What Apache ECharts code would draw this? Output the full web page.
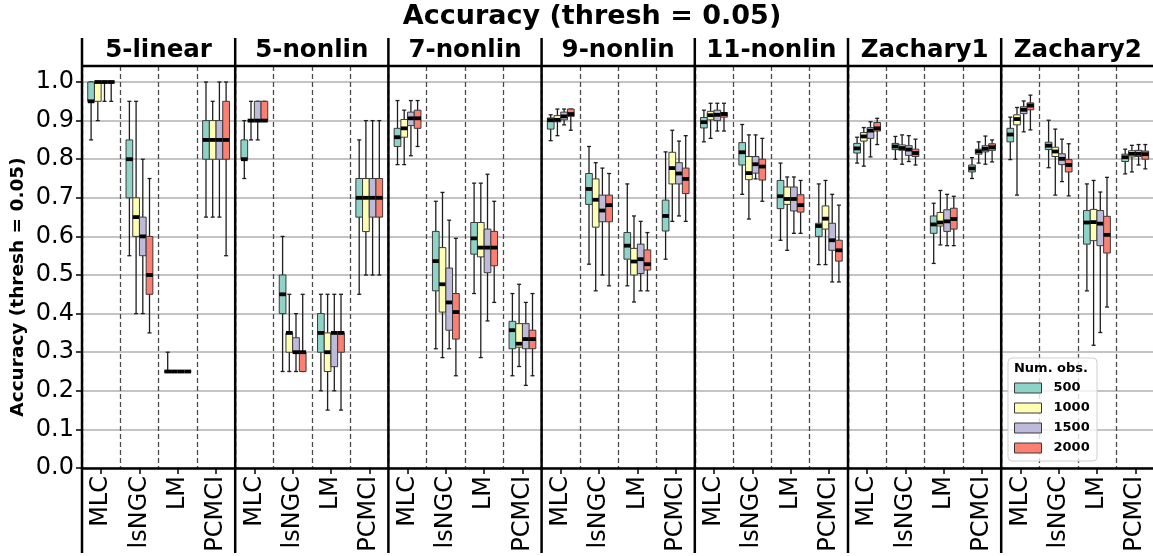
<!DOCTYPE html>
<html>
<head>
<meta charset="utf-8">
<script src="https://cdn.jsdelivr.net/npm/echarts@6/dist/echarts.min.js"></script>
<style>
  html, body { margin: 0; padding: 0; background: #fff; }
  #chart { width: 1153px; height: 556px; }
</style>
</head>
<body>
<div id="chart"></div>
<script>
// ---- data -------------------------------------------------------------
const panels = ['5-linear', '5-nonlin', '7-nonlin', '9-nonlin', '11-nonlin', 'Zachary1', 'Zachary2'];
const methods = ['MLC', 'lsNGC', 'LM', 'PCMCI'];
const sampleSizes = ['500', '1000', '1500', '2000'];
const yTicks = [0, 0.1, 0.2, 0.3, 0.4, 0.5, 0.6, 0.7, 0.8, 0.9, 1.0];

// Box statistics per method, per sample size: [low whisker, Q1, median, Q3, high whisker]
const linear5 = [
  [[0.85, 0.95, 0.95, 1.0, 1.0], [0.90, 0.95, 1.0, 1.0, 1.0], [0.95, 1.0, 1.0, 1.0, 1.0], [0.95, 1.0, 1.0, 1.0, 1.0]],
  [[0.55, 0.70, 0.80, 0.85, 0.95], [0.40, 0.60, 0.65, 0.70, 0.95], [0.40, 0.55, 0.60, 0.65, 0.80], [0.35, 0.45, 0.50, 0.60, 0.75]],
  [[0.25, 0.25, 0.25, 0.25, 0.30], [0.25, 0.25, 0.25, 0.25, 0.25], [0.25, 0.25, 0.25, 0.25, 0.25], [0.25, 0.25, 0.25, 0.25, 0.25]],
  [[0.65, 0.80, 0.85, 0.90, 1.0], [0.65, 0.80, 0.85, 0.90, 0.95], [0.65, 0.80, 0.85, 0.90, 1.0], [0.55, 0.80, 0.85, 0.95, 1.0]]
];
const nonlin5 = [
  [[0.75, 0.80, 0.80, 0.85, 0.90], [0.85, 0.90, 0.90, 0.90, 0.95], [0.85, 0.90, 0.90, 0.95, 0.95], [0.90, 0.90, 0.90, 0.95, 0.95]],
  [[0.25, 0.40, 0.45, 0.50, 0.60], [0.25, 0.30, 0.35, 0.35, 0.45], [0.25, 0.30, 0.30, 0.3375, 0.40], [0.25, 0.25, 0.30, 0.30, 0.45]],
  [[0.20, 0.30, 0.35, 0.40, 0.45], [0.15, 0.25, 0.30, 0.35, 0.45], [0.20, 0.2625, 0.35, 0.35, 0.45], [0.15, 0.30, 0.35, 0.35, 0.45]],
  [[0.45, 0.65, 0.70, 0.75, 0.85], [0.50, 0.6125, 0.70, 0.75, 0.90], [0.50, 0.65, 0.70, 0.75, 0.90], [0.50, 0.65, 0.70, 0.75, 0.90]]
];
const nonlin7 = [
  [[0.786, 0.833, 0.857, 0.880, 0.952], [0.786, 0.857, 0.880, 0.903, 0.927], [0.809, 0.887, 0.906, 0.922, 0.952], [0.833, 0.880, 0.906, 0.927, 0.952]],
  [[0.309, 0.459, 0.536, 0.613, 0.691], [0.286, 0.404, 0.476, 0.571, 0.714], [0.309, 0.357, 0.429, 0.518, 0.642], [0.239, 0.334, 0.404, 0.452, 0.595]],
  [[0.452, 0.554, 0.595, 0.636, 0.738], [0.286, 0.547, 0.571, 0.636, 0.738], [0.381, 0.506, 0.571, 0.619, 0.761], [0.429, 0.524, 0.571, 0.613, 0.691]],
  [[0.239, 0.309, 0.357, 0.380, 0.452], [0.263, 0.313, 0.322, 0.374, 0.476], [0.214, 0.309, 0.334, 0.374, 0.429], [0.239, 0.309, 0.334, 0.357, 0.452]]
];
const nonlin9 = [
  [[0.848, 0.878, 0.901, 0.907, 0.915], [0.861, 0.897, 0.902, 0.913, 0.930], [0.889, 0.902, 0.911, 0.922, 0.930], [0.875, 0.911, 0.917, 0.930, 0.930]],
  [[0.528, 0.683, 0.723, 0.763, 0.833], [0.459, 0.624, 0.695, 0.749, 0.791], [0.500, 0.638, 0.667, 0.707, 0.777], [0.472, 0.638, 0.681, 0.707, 0.763]],
  [[0.472, 0.541, 0.576, 0.610, 0.736], [0.430, 0.500, 0.535, 0.569, 0.653], [0.459, 0.504, 0.541, 0.580, 0.639], [0.459, 0.513, 0.528, 0.565, 0.610]],
  [[0.541, 0.614, 0.653, 0.694, 0.819], [0.639, 0.736, 0.777, 0.818, 0.875], [0.653, 0.736, 0.763, 0.791, 0.847], [0.639, 0.711, 0.749, 0.777, 0.861]]
];
const nonlin11 = [
  [[0.845, 0.881, 0.896, 0.908, 0.927], [0.854, 0.902, 0.914, 0.924, 0.945], [0.873, 0.900, 0.915, 0.927, 0.945], [0.873, 0.909, 0.917, 0.921, 0.945]],
  [[0.709, 0.785, 0.818, 0.843, 0.890], [0.645, 0.747, 0.764, 0.807, 0.863], [0.749, 0.764, 0.787, 0.807, 0.863], [0.691, 0.746, 0.781, 0.800, 0.854]],
  [[0.590, 0.672, 0.704, 0.745, 0.790], [0.564, 0.683, 0.697, 0.728, 0.754], [0.608, 0.666, 0.697, 0.728, 0.754], [0.608, 0.663, 0.681, 0.708, 0.745]],
  [[0.527, 0.600, 0.627, 0.634, 0.736], [0.527, 0.619, 0.646, 0.679, 0.745], [0.482, 0.564, 0.590, 0.634, 0.709], [0.482, 0.536, 0.564, 0.590, 0.681]]
];
const zachary1 = [
  [[0.790, 0.816, 0.828, 0.841, 0.857], [0.782, 0.847, 0.859, 0.869, 0.882], [0.806, 0.854, 0.874, 0.882, 0.897], [0.838, 0.873, 0.880, 0.895, 0.906]],
  [[0.800, 0.825, 0.833, 0.841, 0.859], [0.787, 0.823, 0.829, 0.837, 0.863], [0.794, 0.810, 0.825, 0.835, 0.861], [0.785, 0.807, 0.816, 0.826, 0.852]],
  [[0.530, 0.608, 0.631, 0.653, 0.686], [0.578, 0.627, 0.636, 0.662, 0.719], [0.576, 0.613, 0.639, 0.669, 0.709], [0.576, 0.619, 0.645, 0.673, 0.704]],
  [[0.750, 0.767, 0.776, 0.785, 0.804], [0.790, 0.813, 0.820, 0.826, 0.845], [0.787, 0.819, 0.827, 0.835, 0.860], [0.793, 0.823, 0.831, 0.840, 0.850]]
];
const zachary2 = [
  [[0.799, 0.845, 0.864, 0.880, 0.909], [0.707, 0.889, 0.904, 0.915, 0.934], [0.871, 0.918, 0.928, 0.936, 0.951], [0.876, 0.928, 0.939, 0.946, 0.966]],
  [[0.778, 0.825, 0.835, 0.844, 0.901], [0.707, 0.807, 0.820, 0.831, 0.878], [0.742, 0.786, 0.801, 0.814, 0.852], [0.705, 0.767, 0.785, 0.799, 0.840]],
  [[0.459, 0.580, 0.636, 0.667, 0.736], [0.318, 0.589, 0.637, 0.670, 0.745], [0.351, 0.576, 0.633, 0.667, 0.715], [0.417, 0.557, 0.604, 0.652, 0.753]],
  [[0.762, 0.794, 0.805, 0.813, 0.826], [0.767, 0.806, 0.814, 0.822, 0.836], [0.785, 0.807, 0.814, 0.823, 0.838], [0.775, 0.800, 0.813, 0.821, 0.838]]
];
const panelStats = [linear5, nonlin5, nonlin7, nonlin9, nonlin11, zachary1, zachary2];

// ---- layout & style ---------------------------------------------------
const FONT = 'DejaVu Sans';
const PALETTE = ['#8dd3c7', '#ffffb3', '#bebada', '#fb8072'];
const LEFT = 82, PANEL_W = 153.2, TOP = 66, PLOT_H = 402, Y_MAX = 1.0415;
const HEADER_TOP = 38, FRAME_BOTTOM = 553;
const RIGHT = LEFT + panels.length * PANEL_W;
const BOX_FRAC = 0.175;   // width of one box as a share of a method's band

function boxRenderer(hue) {
  return function (params, api) {
    const cat = api.value(0);
    const band = api.size([1, 0])[0];
    const bw = band * BOX_FRAC;
    const cx = api.coord([cat, 0])[0] + (hue - 1.5) * bw;
    const y = i => api.coord([cat, api.value(i)])[1];
    const yLo = y(1), yQ1 = y(2), yMed = y(3), yQ3 = y(4), yHi = y(5);
    const capW = bw * 0.6;
    const lineStyle = { stroke: '#1e1e1e', lineWidth: 1.3 };
    return {
      type: 'group',
      children: [
        { type: 'line', shape: { x1: cx, y1: yHi, x2: cx, y2: yQ3 }, style: lineStyle },
        { type: 'line', shape: { x1: cx, y1: yQ1, x2: cx, y2: yLo }, style: lineStyle },
        { type: 'line', shape: { x1: cx - capW / 2, y1: yHi, x2: cx + capW / 2, y2: yHi }, style: lineStyle },
        { type: 'line', shape: { x1: cx - capW / 2, y1: yLo, x2: cx + capW / 2, y2: yLo }, style: lineStyle },
        { type: 'rect', shape: { x: cx - bw / 2, y: yQ3, width: bw, height: yQ1 - yQ3 },
          style: { fill: PALETTE[hue], stroke: '#3a3a3a', lineWidth: 1 } },
        { type: 'line', shape: { x1: cx - bw / 2, y1: yMed, x2: cx + bw / 2, y2: yMed },
          style: { stroke: '#000', lineWidth: 3.8 } }
      ]
    };
  };
}

const grids = [], xAxes = [], yAxes = [], series = [];
panels.forEach((name, p) => {
  grids.push({ left: LEFT + p * PANEL_W, top: TOP, width: PANEL_W, height: PLOT_H, outerBoundsMode: 'none' });
  xAxes.push({
    type: 'category', gridIndex: p, data: methods, boundaryGap: true,
    axisLine: { show: true, lineStyle: { color: '#000', width: 2.5 } },
    axisTick: { show: true, alignWithLabel: true, length: 6, lineStyle: { color: '#000', width: 1.5 } },
    axisLabel: { interval: 0, rotate: 90, margin: 8, fontSize: 24, color: '#000', fontFamily: FONT },
    splitLine: { show: true, interval: 0, lineStyle: { type: [5, 3], color: '#4a4a4a', width: 1.3 } }
  });
  yAxes.push({
    type: 'value', gridIndex: p, min: 0, max: Y_MAX, interval: 0.1,
    axisLine: { show: false },
    axisTick: { show: p === 0, length: 6, customValues: yTicks, lineStyle: { color: '#000', width: 1.5 } },
    axisLabel: { show: p === 0, customValues: yTicks, margin: 8, fontSize: 24, color: '#000', fontFamily: FONT,
                 formatter: v => v.toFixed(1) },
    splitLine: { show: true, lineStyle: { color: '#b0b0b0', width: 1.5 } }
  });
  sampleSizes.forEach((size, h) => {
    series.push({
      type: 'custom', name: size, xAxisIndex: p, yAxisIndex: p,
      itemStyle: { color: PALETTE[h] },
      renderItem: boxRenderer(h),
      encode: { x: 0, y: [1, 2, 3, 4, 5] },
      data: panelStats[p].map((m, c) => [c].concat(m[h]))
    });
  });
});

// frame: panel borders, header strip, titles
const graphics = [];
for (let i = 0; i <= panels.length; i++) {
  const x = LEFT + i * PANEL_W;
  graphics.push({ type: 'line', z: 10, shape: { x1: x, y1: HEADER_TOP, x2: x, y2: FRAME_BOTTOM },
                  style: { stroke: '#000', lineWidth: 2.5 } });
}
graphics.push({ type: 'line', z: 10, shape: { x1: LEFT, y1: TOP, x2: RIGHT, y2: TOP },
                style: { stroke: '#000', lineWidth: 2.5 } });
panels.forEach((name, i) => {
  graphics.push({ type: 'text', z: 10, x: LEFT + (i + 0.5) * PANEL_W, y: 51,
    style: { text: name, fontFamily: FONT, fontWeight: 'bold', fontSize: 24.5, fill: '#000',
             align: 'center', verticalAlign: 'middle', textAlign: 'center', textVerticalAlign: 'middle' } });
});
graphics.push({ type: 'text', z: 10, x: 592, y: 17,
  style: { text: 'Accuracy (thresh = 0.05)', fontFamily: FONT, fontWeight: 'bold', fontSize: 27, fill: '#000',
           align: 'center', verticalAlign: 'middle', textAlign: 'center', textVerticalAlign: 'middle' } });
graphics.push({ type: 'text', z: 10, x: 18, y: 287, rotation: Math.PI / 2,
  style: { text: 'Accuracy (thresh = 0.05)', fontFamily: FONT, fontWeight: 'bold', fontSize: 18.5, fill: '#000',
           align: 'center', verticalAlign: 'middle', textAlign: 'center', textVerticalAlign: 'middle' } });
// legend frame and title
graphics.push({ type: 'rect', z: 3, shape: { x: 1008, y: 358, width: 89, height: 103, r: 4 },
  style: { fill: 'rgba(255,255,255,0.8)', stroke: '#cfcfcf', lineWidth: 1 } });
graphics.push({ type: 'text', z: 5, x: 1051, y: 369,
  style: { text: 'Num. obs.', fontFamily: FONT, fontWeight: 'bold', fontSize: 13, fill: '#000',
           align: 'center', verticalAlign: 'middle', textAlign: 'center', textVerticalAlign: 'middle' } });

const chart = echarts.init(document.getElementById('chart'), null, { renderer: 'canvas' });
chart.setOption({
  animation: false,
  backgroundColor: '#fff',
  grid: grids,
  xAxis: xAxes,
  yAxis: yAxes,
  series: series,
  legend: {
    data: sampleSizes, orient: 'vertical', left: 1014, top: 381.5, padding: 0,
    itemWidth: 27, itemHeight: 10, itemGap: 7, icon: 'rect', selectedMode: false, z: 6,
    itemStyle: { borderColor: '#3a3a3a', borderWidth: 1 },
    textStyle: { fontFamily: FONT, fontWeight: 'bold', fontSize: 13, color: '#000', padding: [0, 0, 0, 7] }
  },
  graphic: { elements: graphics }
});
</script>
</body>
</html>
